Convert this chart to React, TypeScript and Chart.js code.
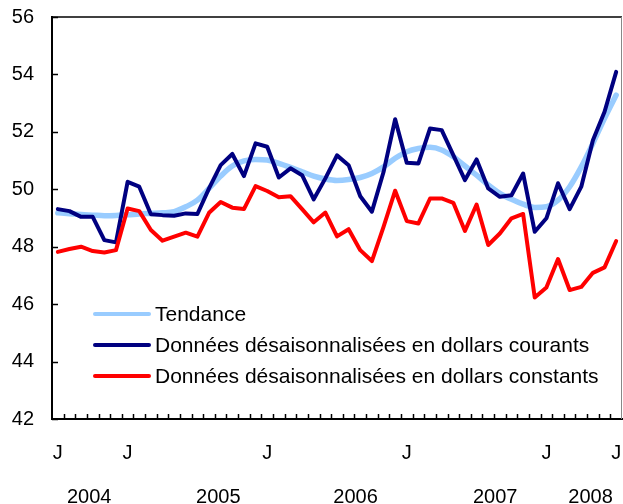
import React, { useEffect, useRef } from "react";
import { Chart, registerables } from "chart.js";

Chart.register(...registerables);

// Month tick labels (49 monthly points)
const jTickIndexes = [0, 6, 18, 30, 42, 48];
const monthTickLabels: string[] = Array.from({ length: 49 }, (_, i) =>
  jTickIndexes.includes(i) ? "J" : ""
);

// Year labels and their position along the month axis
const yearLabels = ["2004", "2005", "2006", "2007", "2008"];
const yearTickPositions = [2.7, 13.8, 25.6, 37.6, 45.8];

const seriesLabels = [
  "Tendance",
  "Données désaisonnalisées en dollars courants",
  "Données désaisonnalisées en dollars constants",
];

const trend = [
  49.18, 49.15, 49.12, 49.1, 49.08, 49.09, 49.11, 49.14, 49.16, 49.18,
  49.22, 49.39, 49.62, 50.03, 50.46, 50.81, 50.99, 51.04, 51.02, 50.9,
  50.76, 50.61, 50.46, 50.36, 50.31, 50.34, 50.41, 50.55, 50.78, 51.08,
  51.31, 51.42, 51.46, 51.37, 51.13, 50.81, 50.49, 50.15, 49.86, 49.65,
  49.48, 49.37, 49.39, 49.62, 50.09, 50.78, 51.6, 52.47, 53.28,
];

const currentDollars = [
  49.31, 49.24, 49.04, 49.04, 48.23, 48.15, 50.26, 50.09, 49.13, 49.1,
  49.08, 49.16, 49.14, 50.03, 50.84, 51.23, 50.46, 51.6, 51.48, 50.41,
  50.73, 50.49, 49.65, 50.38, 51.18, 50.84, 49.76, 49.22, 50.6, 52.44,
  50.92, 50.9, 52.12, 52.06, 51.19, 50.32, 51.04, 50.03, 49.74, 49.79,
  50.55, 48.52, 48.99, 50.21, 49.31, 50.09, 51.71, 52.7, 54.09,
];

const constantDollars = [
  47.82, 47.92, 48.0, 47.85, 47.8, 47.88, 49.33, 49.24, 48.58, 48.21,
  48.35, 48.49, 48.35, 49.18, 49.56, 49.36, 49.31, 50.11, 49.94, 49.72,
  49.76, 49.31, 48.85, 49.19, 48.36, 48.61, 47.88, 47.5, 48.69, 49.95,
  48.89, 48.81, 49.68, 49.68, 49.53, 48.55, 49.47, 48.06, 48.46, 48.99,
  49.14, 46.23, 46.58, 47.57, 46.49, 46.6, 47.09, 47.28, 48.2,
];

const FONT_FAMILY = "'Liberation Sans', Arial, Helvetica, sans-serif";

const framePlugin = {
  id: "frameAndTicks",
  beforeDatasetsDraw(chart: any) {
    const { ctx, chartArea } = chart;
    const xs = chart.scales.x;
    const ys = chart.scales.y;
    ctx.save();
    // top border
    ctx.strokeStyle = "#000";
    ctx.lineWidth = 1.5;
    ctx.beginPath();
    ctx.moveTo(chartArea.left, chartArea.top);
    ctx.lineTo(chartArea.right, chartArea.top);
    ctx.stroke();
    // right border
    ctx.strokeStyle = "#888";
    ctx.lineWidth = 1;
    ctx.beginPath();
    ctx.moveTo(chartArea.right - 0.5, chartArea.top);
    ctx.lineTo(chartArea.right - 0.5, chartArea.bottom);
    ctx.stroke();
    // inward x ticks at month boundaries
    ctx.strokeStyle = "#000";
    ctx.lineWidth = 1.5;
    const n = chart.data.labels.length;
    for (let i = 0; i < n - 1; i++) {
      const px = (xs.getPixelForValue(i) + xs.getPixelForValue(i + 1)) / 2;
      ctx.beginPath();
      ctx.moveTo(Math.round(px) + 0.5, chartArea.bottom);
      ctx.lineTo(Math.round(px) + 0.5, chartArea.bottom - 5);
      ctx.stroke();
    }
    // inward y ticks
    ys.ticks.forEach((t: any) => {
      const py = ys.getPixelForValue(t.value);
      ctx.beginPath();
      ctx.moveTo(chartArea.left, Math.round(py) + 0.5);
      ctx.lineTo(chartArea.left + 6, Math.round(py) + 0.5);
      ctx.stroke();
    });
    ctx.restore();
  },
  afterDatasetsDraw(chart: any) {
    const { ctx, chartArea } = chart;
    const offsets = [105, 74, 43];
    ctx.save();
    ctx.font = `21px ${FONT_FAMILY}`;
    ctx.textBaseline = "middle";
    ctx.textAlign = "left";
    const order = [2, 0, 1];
    order.forEach((di, k) => {
      const ds = chart.data.datasets[di];
      const y = chartArea.bottom - offsets[k];
      ctx.strokeStyle = ds.borderColor;
      ctx.lineWidth = 4;
      ctx.lineCap = "round";
      ctx.beginPath();
      ctx.moveTo(chartArea.left + 43, y);
      ctx.lineTo(chartArea.left + 97, y);
      ctx.stroke();
      ctx.fillStyle = "#000";
      ctx.fillText(ds.label, chartArea.left + 103, y + 1);
    });
    ctx.restore();
  },
};

const zeroPad = (s: any) => {
  s.paddingLeft = 0;
  s.paddingRight = 0;
  s.paddingTop = 0;
  s.paddingBottom = 0;
};

export default function App() {
  const canvasRef = useRef<HTMLCanvasElement | null>(null);

  useEffect(() => {
    document.body.style.margin = "0";
    const canvas = canvasRef.current;
    if (!canvas) return;
    const chart = new Chart(canvas, {
      type: "line",
      data: {
        labels: monthTickLabels,
        datasets: [
          {
            label: seriesLabels[1],
            data: currentDollars,
            borderColor: "#000080",
            borderWidth: 4,
            pointRadius: 0,
            tension: 0,
            borderJoinStyle: "round",
            borderCapStyle: "round",
            order: 2,
          },
          {
            label: seriesLabels[2],
            data: constantDollars,
            borderColor: "#ff0000",
            borderWidth: 4,
            pointRadius: 0,
            tension: 0,
            borderJoinStyle: "round",
            borderCapStyle: "round",
            order: 1,
          },
          {
            label: seriesLabels[0],
            data: trend,
            borderColor: "#99ccff",
            borderWidth: 5.5,
            pointRadius: 0,
            cubicInterpolationMode: "monotone",
            borderJoinStyle: "round",
            borderCapStyle: "round",
            order: 3,
          },
        ],
      },
      options: {
        responsive: false,
        animation: false,
        devicePixelRatio: 1,
        layout: { padding: { top: 17, right: 1, left: 0, bottom: 0 } },
        plugins: {
          legend: { display: false },
          tooltip: { enabled: false },
        },
        scales: {
          x: {
            type: "category",
            offset: true,
            grid: { display: false, drawTicks: false, offset: true },
            border: { display: true, color: "#000", width: 2 },
            ticks: {
              autoSkip: false,
              maxRotation: 0,
              minRotation: 0,
              padding: 22,
              color: "#000",
              font: { size: 20, family: FONT_FAMILY },
            },
            afterFit: (s: any) => {
              s.height = 50;
              zeroPad(s);
            },
          },
          xYear: {
            type: "linear",
            position: "bottom",
            min: -0.5,
            max: 48.5,
            grid: { display: false, drawTicks: false },
            border: { display: false },
            afterBuildTicks: (s: any) => {
              s.ticks = yearTickPositions.map((v) => ({ value: v }));
            },
            ticks: {
              autoSkip: false,
              maxRotation: 0,
              minRotation: 0,
              padding: 16,
              color: "#000",
              font: { size: 20, family: FONT_FAMILY },
              callback: (v: any) => {
                const idx = yearTickPositions.indexOf(Number(v));
                return idx >= 0 ? yearLabels[idx] : "";
              },
            },
            afterFit: (s: any) => {
              s.height = 35;
              zeroPad(s);
            },
          },
          y: {
            min: 42,
            max: 56,
            grid: { display: false, drawTicks: false },
            border: { display: true, color: "#000", width: 2 },
            ticks: {
              stepSize: 2,
              padding: 18,
              color: "#000",
              font: { size: 20, family: FONT_FAMILY },
            },
            afterFit: (s: any) => {
              s.width = 52;
              zeroPad(s);
            },
          },
        },
      },
      plugins: [framePlugin],
    });
    return () => chart.destroy();
  }, []);

  return (
    <div style={{ width: 623, height: 504 }}>
      <canvas ref={canvasRef} width={623} height={504} />
    </div>
  );
}
